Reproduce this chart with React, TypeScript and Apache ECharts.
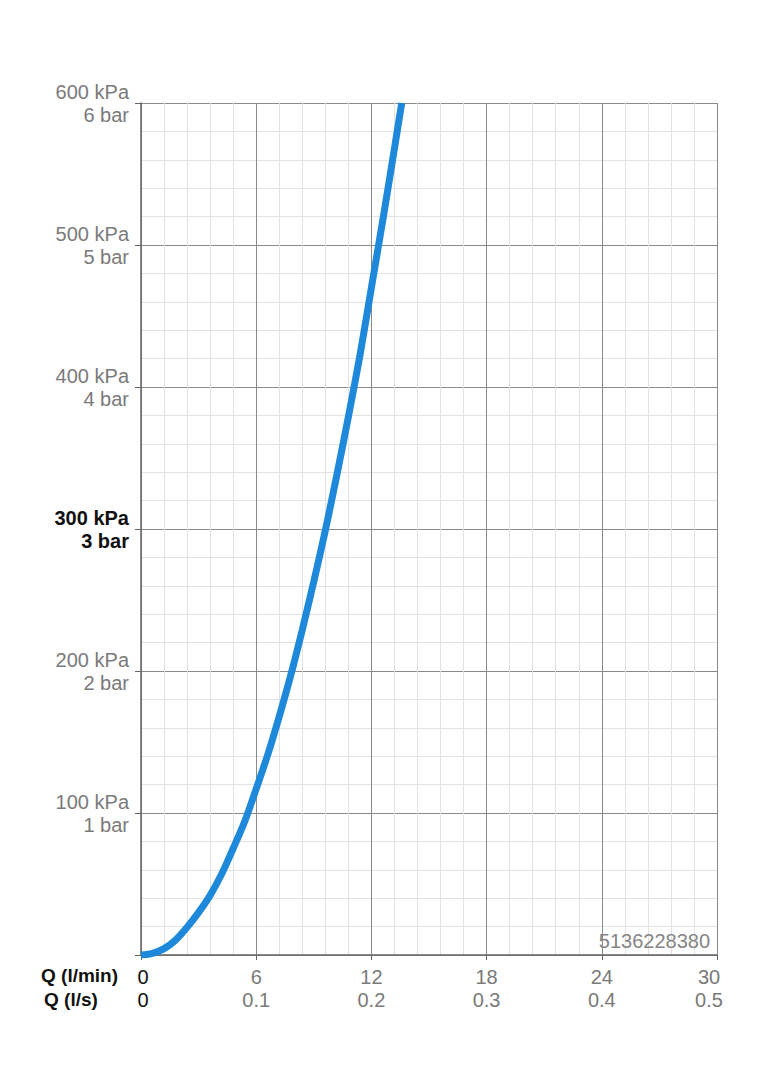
import React, { useEffect, useRef } from "react";
import * as echarts from "echarts";

// Flow rate Q (l/min) and pressure loss (kPa)
const flowLpm = [0, 0.6, 1.2, 1.8, 2.4, 3.0, 3.6, 4.2, 4.8, 5.4, 6.0, 6.6, 7.2, 7.8, 8.4, 9.0, 9.6, 10.2, 10.8, 11.4, 12.0, 12.6, 13.2, 13.58];
const pressureKpa = [0, 1.2, 4.5, 10.5, 19.5, 30, 42, 57, 75, 94, 117, 141, 168, 197, 229, 263, 299, 338, 379, 422, 470, 518, 568, 600];

const xTicksLpm = [0, 6, 12, 18, 24, 30];
const xTicksLs = ["0", "0.1", "0.2", "0.3", "0.4", "0.5"];
const yTicksKpa = [0, 100, 200, 300, 400, 500, 600];
const highlightKpa = 300;
const rowTitles = ["Q (l/min)", "Q (l/s)"];
const productCode = "5136228380";

const FONT = "'Liberation Sans', Arial, Helvetica, sans-serif";

export default function App() {
  const ref = useRef<HTMLDivElement>(null);

  useEffect(() => {
    if (!ref.current) return;
    const chart = echarts.init(ref.current, null, { renderer: "svg" });
    const data = flowLpm.map((q, i) => [q, pressureKpa[i]]);
    const xMax = xTicksLpm[xTicksLpm.length - 1];
    chart.setOption({
      animation: false,
      backgroundColor: "#ffffff",
      textStyle: { fontFamily: FONT },
      grid: { left: 141, right: 47, top: 103, bottom: 125, containLabel: false },
      xAxis: {
        type: "value",
        min: 0,
        max: xMax,
        interval: 6,
        axisLine: { show: true, onZero: false, lineStyle: { color: "#666", width: 1.5 } },
        axisTick: { show: true, length: 5, lineStyle: { color: "#666" } },
        minorTick: { show: false, splitNumber: 5 },
        splitLine: { show: true, lineStyle: { color: "#8a8a8a", width: 1 } },
        minorSplitLine: { show: true, lineStyle: { color: "#e2e2e2", width: 1 } },
        axisLabel: {
          margin: 10,
          fontFamily: FONT,
          formatter: (v: number) => {
            const i = xTicksLpm.indexOf(v);
            if (i < 0) return "";
            const st = v === 0 ? "k" : v === xMax ? "e" : "g";
            return `{${st}|${v}}\n{${st}|${xTicksLs[i]}}`;
          },
          rich: {
            k: { color: "#111", fontSize: 20, lineHeight: 23, fontFamily: FONT, padding: [0, 0, 0, 4] },
            g: { color: "#7a7a7a", fontSize: 20, lineHeight: 23, fontFamily: FONT },
            e: { color: "#7a7a7a", fontSize: 20, lineHeight: 23, fontFamily: FONT, padding: [0, 16, 0, 0] },
          },
        },
      },
      yAxis: {
        type: "value",
        min: 0,
        max: 600,
        interval: 100,
        axisLine: { show: true, onZero: false, lineStyle: { color: "#666", width: 1.5 } },
        axisTick: { show: true, length: 6, lineStyle: { color: "#666" } },
        minorTick: { show: false, splitNumber: 5 },
        splitLine: { show: true, lineStyle: { color: "#8a8a8a", width: 1 } },
        minorSplitLine: { show: true, lineStyle: { color: "#e2e2e2", width: 1 } },
        axisLabel: {
          margin: 12,
          align: "right",
          fontFamily: FONT,
          formatter: (v: number) => {
            if (v === 0 || yTicksKpa.indexOf(v) < 0) return "";
            const st = v === highlightKpa ? "b" : "g";
            return `{${st}|${v} kPa}\n{${st}|${v / 100} bar}`;
          },
          rich: {
            b: { color: "#111", fontSize: 20, lineHeight: 23, fontWeight: "bold", fontFamily: FONT, align: "right" },
            g: { color: "#7a7a7a", fontSize: 20, lineHeight: 23, fontFamily: FONT, align: "right" },
          },
        },
      },
      series: [
        {
          type: "line",
          data,
          smooth: 0.3,
          showSymbol: false,
          symbol: "none",
          clip: true,
          lineStyle: { color: "#1e88da", width: 7 },
          z: 5,
        },
      ],
      graphic: [
        {
          type: "text",
          left: 41,
          top: 966,
          style: { text: rowTitles[0], fill: "#111", font: `bold 19px ${FONT}` },
        },
        {
          type: "text",
          left: 44,
          top: 990,
          style: { text: rowTitles[1], fill: "#111", font: `bold 19px ${FONT}` },
        },
        {
          type: "text",
          right: 54,
          top: 931,
          z: 10,
          style: { text: productCode, fill: "#858585", font: `20px ${FONT}` },
        },
      ],
    });
    return () => chart.dispose();
  }, []);

  return (
    <div
      ref={ref}
      style={{ position: "absolute", left: 0, top: 0, width: 764, height: 1080 }}
    />
  );
}
